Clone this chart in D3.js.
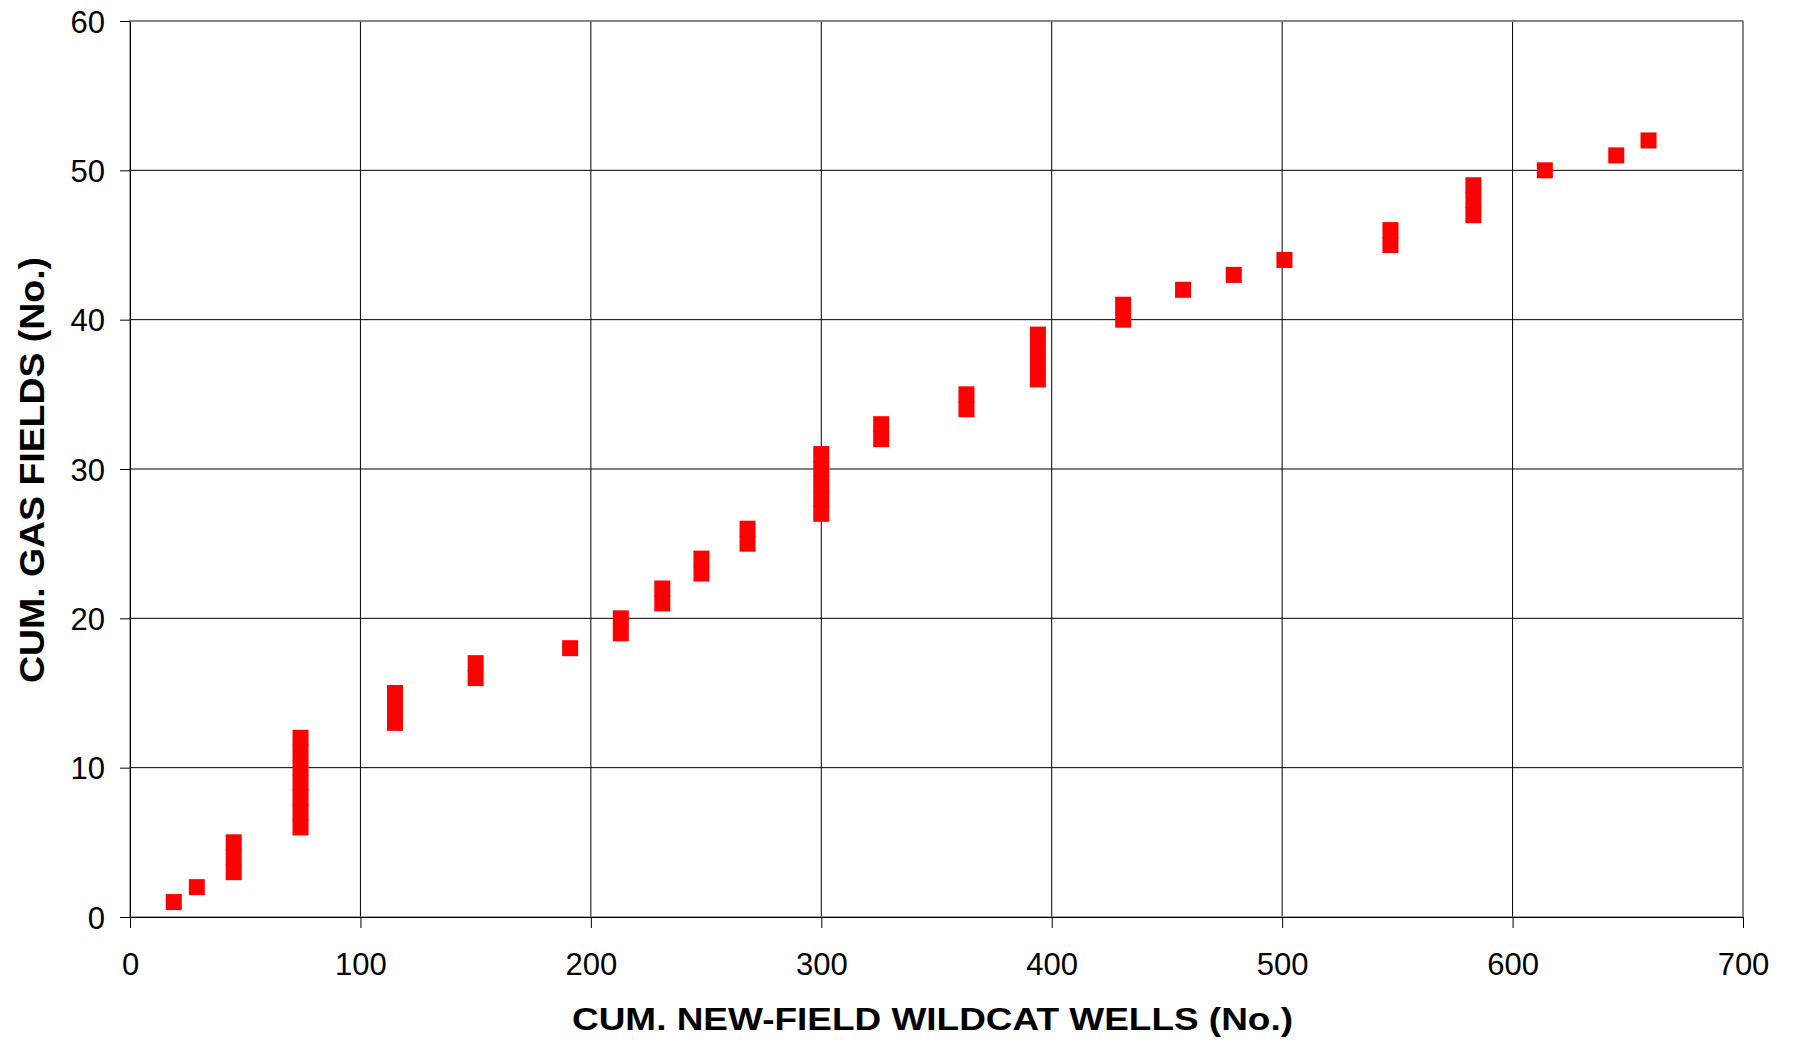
<!DOCTYPE html>
<html>
<head>
<meta charset="utf-8">
<script src="https://cdn.jsdelivr.net/npm/d3@7"></script>
<style>
  body { margin: 0; background: #fff; }
  svg { display: block; font-family: Arial, 'Liberation Sans', sans-serif; }
  .axis text { font-size: 31px; fill: #000; }
  .axis path, .axis line { stroke: #000; }
  .grid line { stroke: #000; stroke-width: 1; }
  .title { font-weight: bold; font-size: 32px; fill: #000; }
</style>
</head>
<body>
<div id="chart"></div>
<script>
// cumulative new-field wildcat wells at each gas field discovery
const wells = [
  19, 29, 45, 45, 45, 74, 74, 74, 74, 74, 74, 74,
  115, 115, 115, 150, 150, 191, 213, 213, 231, 231, 248, 248,
  268, 268, 300, 300, 300, 300, 300, 326, 326, 363, 363,
  394, 394, 394, 394, 431, 431, 457, 479, 501,
  547, 547, 583, 583, 583, 614, 645, 659,
];
// cumulative gas fields (1..52)
const fields = [
  1, 2, 3, 4, 5, 6, 7, 8, 9, 10, 11, 12,
  13, 14, 15, 16, 17, 18, 19, 20, 21, 22, 23, 24,
  25, 26, 27, 28, 29, 30, 31, 32, 33, 34, 35,
  36, 37, 38, 39, 40, 41, 42, 43, 44,
  45, 46, 47, 48, 49, 50, 51, 52,
];
const xTicks = [0, 100, 200, 300, 400, 500, 600, 700];
const yTicks = [0, 10, 20, 30, 40, 50, 60];
const xTitle = 'CUM. NEW-FIELD WILDCAT WELLS (No.)';
const yTitle = 'CUM. GAS FIELDS (No.)';

const margin = { top: 21, right: 50, bottom: 128, left: 130 };
const W = 1793, H = 1045;
const width = W - margin.left - margin.right;
const height = H - margin.top - margin.bottom;

const svg = d3.select('#chart').append('svg')
  .attr('width', W)
  .attr('height', H);

const g = svg.append('g')
  .attr('transform', `translate(${margin.left},${margin.top})`);

const x = d3.scaleLinear().domain([0, 700]).range([0, width]);
const y = d3.scaleLinear().domain([0, 60]).range([height, 0]);

// grid
g.append('g').attr('class', 'grid')
  .selectAll('line.v').data(xTicks.slice(1)).join('line')
  .attr('x1', (d) => x(d)).attr('x2', (d) => x(d))
  .attr('y1', 0).attr('y2', height);
g.append('g').attr('class', 'grid')
  .selectAll('line.h').data(yTicks.slice(1)).join('line')
  .attr('x1', 0).attr('x2', width)
  .attr('y1', (d) => y(d)).attr('y2', (d) => y(d));

// plot frame (top/right)
g.append('rect')
  .attr('x', 0).attr('y', 0)
  .attr('width', width).attr('height', height)
  .attr('fill', 'none')
  .attr('stroke', '#888')
  .attr('stroke-width', 1.5);

// axes
const xAxis = g.append('g')
  .attr('class', 'axis')
  .attr('transform', `translate(0,${height})`)
  .call(d3.axisBottom(x).tickValues(xTicks).tickSizeInner(11).tickSizeOuter(0));
xAxis.selectAll('text').attr('y', 58).attr('dy', 0);

const yAxis = g.append('g')
  .attr('class', 'axis')
  .call(d3.axisLeft(y).tickValues(yTicks).tickSizeInner(10).tickSizeOuter(0));
yAxis.selectAll('text').attr('x', -25).attr('dy', '0.36em');

// markers (slightly taller so stacked squares merge into solid bars)
const s = 16;
g.append('g')
  .selectAll('rect')
  .data(wells.map((w, i) => ({ w, f: fields[i] })))
  .join('rect')
  .attr('x', (d) => x(d.w) - s / 2)
  .attr('y', (d) => y(d.f) - s / 2)
  .attr('width', s)
  .attr('height', s)
  .attr('fill', '#ff0000');

// titles
svg.append('text')
  .attr('class', 'title')
  .attr('x', 572)
  .attr('y', 1030)
  .attr('textLength', 721)
  .attr('lengthAdjust', 'spacingAndGlyphs')
  .text(xTitle);

svg.append('text')
  .attr('class', 'title')
  .attr('transform', 'translate(44,683) rotate(-90)')
  .style('font-size', '35px')
  .attr('textLength', 426)
  .attr('lengthAdjust', 'spacingAndGlyphs')
  .text(yTitle);
</script>
</body>
</html>
